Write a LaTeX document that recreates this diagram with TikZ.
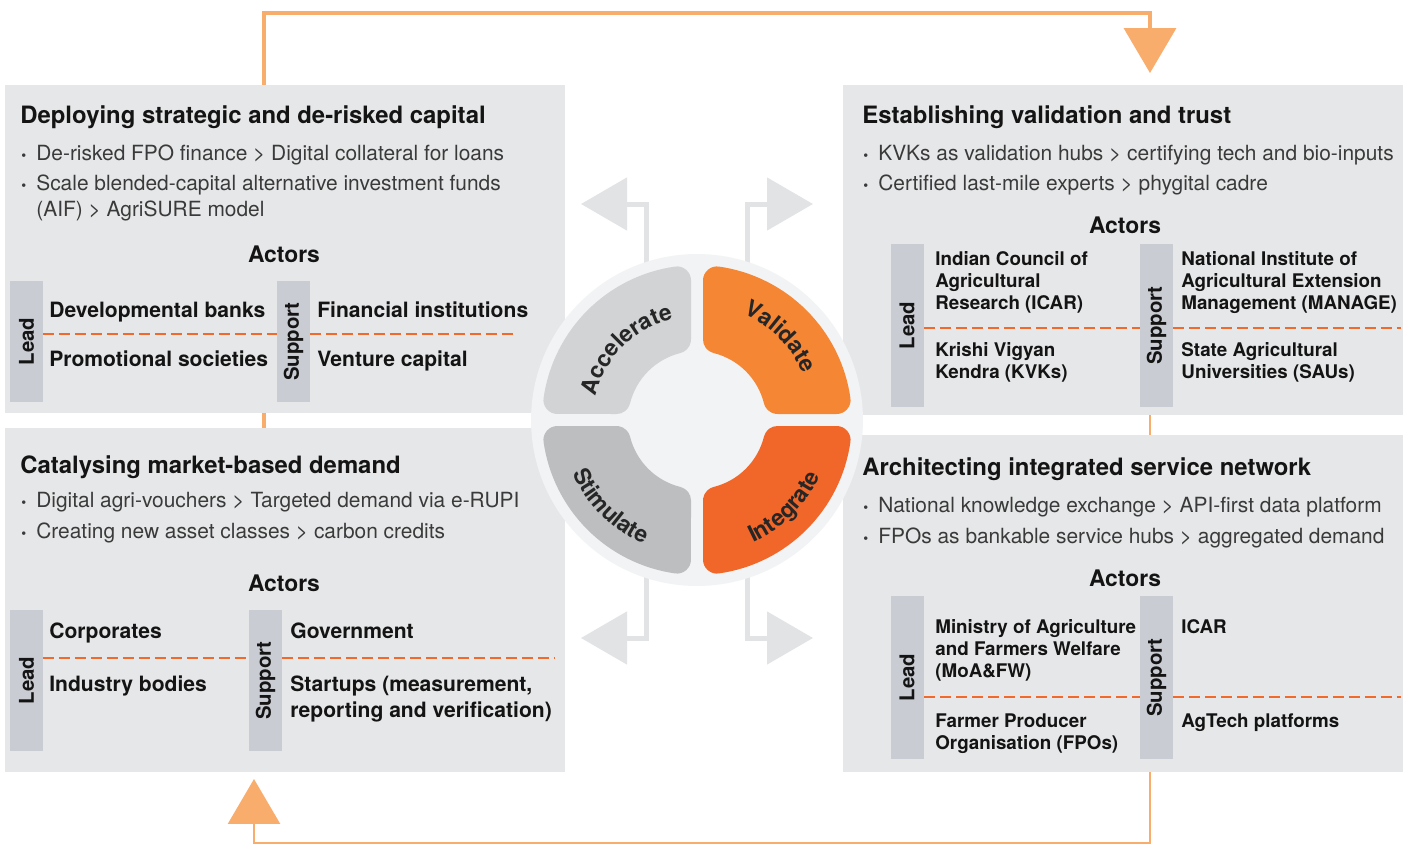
\documentclass[tikz,border=0pt]{standalone}
\usepackage{fontspec}
\setmainfont{TeX Gyre Heros}
\usetikzlibrary{arrows.meta,decorations.text}

\definecolor{panelgray}{RGB}{230,231,232}
\definecolor{bargray}{RGB}{201,204,210}
\definecolor{splitorange}{RGB}{242,105,44}
\definecolor{looporange}{RGB}{249,173,108}
\definecolor{pointergray}{RGB}{226,227,229}
\definecolor{hubring}{RGB}{242,243,244}
\definecolor{accgray}{RGB}{209,211,212}
\definecolor{valorange}{RGB}{245,134,52}
\definecolor{intorange}{RGB}{241,103,41}
\definecolor{stimgray}{RGB}{188,190,192}
\definecolor{inkblack}{RGB}{20,20,20}
\definecolor{bodygray}{RGB}{58,58,58}
\definecolor{ringtext}{RGB}{38,38,38}

\newcommand\titlefont{\fontsize{13.6}{16}\selectfont\bfseries}
\newcommand\bodyfont{\fontsize{11.9}{14}\selectfont}
\newcommand\headfont{\fontsize{13}{15}\selectfont\bfseries}
\newcommand\actorfont{\fontsize{12}{14.7}\selectfont\bfseries}
\newcommand\actorsmallfont{\fontsize{10.7}{12.5}\selectfont\bfseries}
\newcommand\rolefont{\fontsize{11.6}{13}\selectfont\bfseries}
\newcommand\ringfont{\fontsize{13}{15}\selectfont\bfseries}
\newcommand\pointmark{\makebox[0.3cm][l]{\fontsize{8}{8}\selectfont\textbullet}}

\begin{document}
\begin{tikzpicture}[x=0.02cm, y=0.02cm,
    panel/.style={fill=panelgray, draw=none, anchor=north west, inner sep=0, minimum width=11.2cm},
    title/.style={anchor=base west, inner sep=0, font=\titlefont, text=inkblack},
    pointtext/.style={anchor=base west, inner sep=0, font=\bodyfont, text=bodygray},
    actorshead/.style={anchor=base, inner sep=0, font=\headfont, text=inkblack},
    rolebar/.style={fill=bargray, rotate=90, inner sep=0, minimum height=0.66cm, font=\rolefont, text=inkblack},
    actor/.style={anchor=base west, inner sep=0, align=left, font=\actorfont, text=inkblack},
    actorsmall/.style={actor, font=\actorsmallfont},
    splitline/.style={draw=splitorange, line width=0.03cm, dash pattern=on 0.22cm off 0.1cm},
    loopline/.style={draw=looporange, line width=0.075cm,
        -{Triangle[length=0.9cm, width=1.04cm]}},
    pointer/.style={draw=pointergray, line width=0.1cm, line join=miter,
        -{Triangle[length=0.92cm, width=1.04cm]}},
    petal/.style={line width=0.56cm, line join=round},
    ringlabel/.style={decorate, decoration={text along path, text align=center,
        text color=ringtext}}]

    \useasboundingbox (0,0) rectangle (1407,-845);
    \fill[white] (0,0) rectangle (1407,-845);

    % Loop arrows, drawn first so the panels sit on top of them
    \coordinate (capitalOut) at (264,-600);
    \coordinate (trustIn) at (1150,-73);
    \coordinate (networkOut) at (1150,-300);
    \coordinate (demandIn) at (254,-779);
    \draw[loopline] (capitalOut) -- (264,-13) -| (trustIn);
    \draw[loopline, line width=0.055cm] (networkOut) -- (1150,-843) -| (demandIn);

    % Four panels
    \node[panel, minimum height=6.56cm] (capital) at (5,-85) {};
    \node[panel, minimum height=6.6cm] (trust) at (843,-85) {};
    \node[panel, minimum height=6.88cm] (demand) at (5,-428) {};
    \node[panel, minimum height=6.74cm] (network) at (843,-435) {};

    % Pointers leave the hub towards the panels
    \coordinate (hubc) at (697,-420);
    \draw[pointer] ([xshift=-1.02cm]hubc) -- ++(0,216) -- ++(-65,0);
    \draw[pointer] ([xshift=1.02cm]hubc) -- ++(0,216) -- ++(65,0);
    \draw[pointer] ([xshift=-1.02cm]hubc) -- ++(0,-218) -- ++(-65,0);
    \draw[pointer] ([xshift=1.02cm]hubc) -- ++(0,-218) -- ++(65,0);
    \node[circle, fill=hubring, minimum size=6.64cm, inner sep=0] (hub) at (hubc) {};

    % Quarter segments: shrunken outline widened by a round-joined stroke
    \foreach \rot/\col in {0/accgray, -90/valorange, 180/intorange, 90/stimgray} {
        \begin{scope}[shift={(hub.center)}, rotate=\rot]
            \filldraw[petal, fill=\col, draw=\col] (-20,80.55) -- (-20,139.57)
                arc[start angle=98.16, end angle=171.84, radius=141]
                -- (-80.55,20)
                arc[start angle=166.06, end angle=103.94, radius=83] -- cycle;
        \end{scope}
    }

    % Segment labels along the ring
    \begin{scope}[shift={(hub.center)}]
        \path[ringlabel, decoration={text={|\ringfont|Accelerate}}]
            (180:104) arc[start angle=180, end angle=90, radius=104];
        \path[ringlabel, decoration={text={|\ringfont|Validate}}]
            (90:116) arc[start angle=90, end angle=0, radius=116];
        \path[ringlabel, decoration={text={|\ringfont|Stimulate}}]
            (180:135) arc[start angle=180, end angle=270, radius=135];
        \path[ringlabel, decoration={text={|\ringfont|Integrate}}]
            (270:135) arc[start angle=270, end angle=360, radius=135];
    \end{scope}

    % Capital panel
    \node[title] (capTitle) at (20,-123) {Deploying strategic and de-risked capital};
    \node[pointtext] (capPointA) at (21,-160) {\pointmark De-risked FPO finance > Digital collateral for loans};
    \node[pointtext] (capPointB) at (21,-190) {\pointmark Scale blended-capital alternative investment funds};
    \node[pointtext] (capPointC) at (36,-216) {(AIF) > AgriSURE model};
    \node[actorshead] (capActors) at (284,-262) {Actors};
    \node[rolebar, minimum width=2.42cm] (capLead) at (26.5,-341.5) {Lead};
    \node[rolebar, minimum width=2.42cm] (capSupport) at (293.5,-341.5) {Support};
    \draw[splitline] (43,-334) -- (277,-334) (310,-334) -- (515,-334);
    \node[actor] (capLeadA) at (49,-317) {Developmental banks};
    \node[actor] (capLeadB) at (49,-366) {Promotional societies};
    \node[actor] (capSupA) at (317,-317) {Financial institutions};
    \node[actor] (capSupB) at (317,-366) {Venture capital};

    % Trust panel (multi-line nodes sit on their last baseline)
    \node[title] (trustTitle) at (862,-123) {Establishing validation and trust};
    \node[pointtext] (trustPointA) at (863,-160) {\pointmark KVKs as validation hubs > certifying tech and bio-inputs};
    \node[pointtext] (trustPointB) at (863,-190) {\pointmark Certified last-mile experts > phygital cadre};
    \node[actorshead] (trustActors) at (1125,-233) {Actors};
    \node[rolebar, minimum width=3.26cm] (trustLead) at (907,-325.5) {Lead};
    \node[rolebar, minimum width=3.26cm] (trustSupport) at (1156.5,-325.5) {Support};
    \draw[splitline] (924,-328) -- (1140,-328) (1173,-328) -- (1401,-328);
    \node[actorsmall] (trustLeadA) at (935,-309) {Indian Council of\\Agricultural\\Research (ICAR)};
    \node[actorsmall] (trustLeadB) at (935,-378) {Krishi Vigyan\\Kendra (KVKs)};
    \node[actorsmall] (trustSupA) at (1181,-309) {National Institute of\\Agricultural Extension\\Management (MANAGE)};
    \node[actorsmall] (trustSupB) at (1181,-378) {State Agricultural\\Universities (SAUs)};

    % Demand panel
    \node[title] (demTitle) at (20,-473) {Catalysing market-based demand};
    \node[pointtext] (demPointA) at (21,-507) {\pointmark Digital agri-vouchers > Targeted demand via e-RUPI};
    \node[pointtext] (demPointB) at (21,-538) {\pointmark Creating new asset classes > carbon credits};
    \node[actorshead] (demActors) at (284,-591) {Actors};
    \node[rolebar, minimum width=2.82cm] (demLead) at (26.5,-680.5) {Lead};
    \node[rolebar, minimum width=2.82cm] (demSupport) at (265.5,-680.5) {Support};
    \draw[splitline] (43,-658) -- (249,-658) (282,-658) -- (555,-658);
    \node[actor] (demLeadA) at (49,-638) {Corporates};
    \node[actor] (demLeadB) at (49,-691) {Industry bodies};
    \node[actor] (demSupA) at (290,-638) {Government};
    \node[actor] (demSupB) at (290,-717) {Startups (measurement,\\reporting and verification)};

    % Network panel
    \node[title] (netTitle) at (862,-475) {Architecting integrated service network};
    \node[pointtext] (netPointA) at (863,-512) {\pointmark National knowledge exchange > API-first data platform};
    \node[pointtext] (netPointB) at (863,-543) {\pointmark FPOs as bankable service hubs > aggregated demand};
    \node[actorshead] (netActors) at (1125,-586) {Actors};
    \node[rolebar, minimum width=3.26cm] (netLead) at (907,-677.5) {Lead};
    \node[rolebar, minimum width=3.26cm] (netSupport) at (1156.5,-677.5) {Support};
    \draw[splitline] (924,-697) -- (1140,-697) (1173,-697) -- (1401,-697);
    \node[actorsmall] (netLeadA) at (935,-677) {Ministry of Agriculture\\and Farmers Welfare\\(MoA\&FW)};
    \node[actorsmall] (netLeadB) at (935,-749) {Farmer Producer\\Organisation (FPOs)};
    \node[actorsmall] (netSupA) at (1181,-633) {ICAR};
    \node[actorsmall] (netSupB) at (1181,-727) {AgTech platforms};
\end{tikzpicture}
\end{document}
